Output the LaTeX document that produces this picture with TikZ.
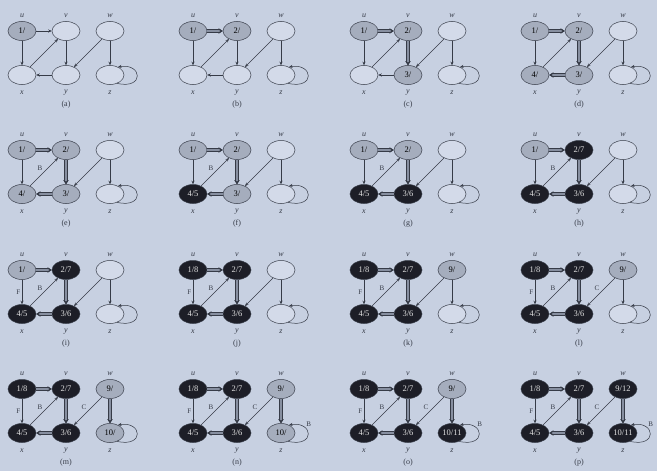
\documentclass[tikz,border=0pt]{standalone}
\usepackage{fontspec}
\setmainfont{Liberation Serif}
\usetikzlibrary{shapes.geometric,arrows.meta}
\definecolor{paper}{HTML}{C7D0E1}
\definecolor{ink}{HTML}{363B47}
\definecolor{wfill}{HTML}{D3DAE9}
\definecolor{gfill}{HTML}{A5ADBD}
\definecolor{bfill}{HTML}{1D1E27}
\definecolor{treegray}{HTML}{878FA0}

\tikzset{
  vert/.style={ellipse,draw=ink,line width=0.5pt,minimum width=28pt,minimum height=19pt,inner sep=0pt,font=\fontsize{8.5}{9}\selectfont},
  wh/.style={vert,fill=wfill},
  gr/.style={vert,fill=gfill},
  bk/.style={vert,fill=bfill,text=black!12},
  pl/.style={draw=ink,line width=0.5pt,-{Stealth[length=3.5pt,width=3pt]}},
  tr/.style={draw=treegray,line width=2.6pt,preaction={draw=ink,line width=3.8pt},-{Stealth[length=4pt,width=5pt,color=ink]}},
  elab/.style={font=\fontsize{7}{8}\selectfont,text=ink,inner sep=1.5pt},
  vlab/.style={font=\fontsize{8}{9}\selectfont\itshape,text=ink},
  capt/.style={font=\fontsize{8}{9}\selectfont,text=ink}
}

% one vertex: panel, name, position, style:text
\def\dfsnode#1#2#3#4:#5\relax{\node[#4] (#2-#1) at (#3) {#5};}
% one edge: from, to, label side, style:label
\def\dfsedge#1#2#3#4:#5\relax{\draw[#4] (#1) -- node[elab,#3] {#5} (#2);}
% self loop on z
\def\dfsloop#1#2:#3\relax{\draw[#2] (#1.-50) .. controls +(28,-6) and +(24,4) .. node[elab,pos=0.7,above right] {#3} (#1.45);}

\newcommand{\dfsnodes}[7]{%
  \dfsnode{#1}{u}{0,0}#2\relax
  \dfsnode{#1}{v}{44,0}#3\relax
  \dfsnode{#1}{w}{88,0}#4\relax
  \dfsnode{#1}{x}{0,-44}#5\relax
  \dfsnode{#1}{y}{44,-44}#6\relax
  \dfsnode{#1}{z}{88,-44}#7\relax
  \node[vlab] (lu-#1) at (0,15) {u};
  \node[vlab] (lv-#1) at (44,15) {v};
  \node[vlab] (lw-#1) at (88,15) {w};
  \node[vlab] (lx-#1) at (0,-62) {x};
  \node[vlab] (ly-#1) at (44,-62) {y};
  \node[vlab] (lz-#1) at (88,-62) {z};
  \node[capt] (cap-#1) at (44,-74) {(#1)};
}
\newcommand{\dfsedges}[9]{%
  \dfsedge{u-#1}{v-#1}{above}#2\relax
  \dfsedge{u-#1}{x-#1}{left}#3\relax
  \dfsedge{x-#1}{v-#1}{above left}#4\relax
  \dfsedge{v-#1}{y-#1}{right}#5\relax
  \dfsedge{y-#1}{x-#1}{below}#6\relax
  \dfsedge{w-#1}{y-#1}{above left}#7\relax
  \dfsedge{w-#1}{z-#1}{right}#8\relax
  \dfsloop{z-#1}#9\relax
}

\begin{document}
\begin{tikzpicture}[x=1pt,y=1pt]
  \useasboundingbox (0,0) rectangle (657,-471);
  \fill[paper] (0,0) rectangle (657,-471);

  % row 1
  \begin{scope}[shift={(22,-31)}]
    \dfsnodes{a}{gr:1/}{wh:}{wh:}{wh:}{wh:}{wh:}
    \dfsedges{a}{pl:}{pl:}{pl:}{pl:}{pl:}{pl:}{pl:}{pl:}
  \end{scope}
  \begin{scope}[shift={(193,-31)}]
    \dfsnodes{b}{gr:1/}{gr:2/}{wh:}{wh:}{wh:}{wh:}
    \dfsedges{b}{tr:}{pl:}{pl:}{pl:}{pl:}{pl:}{pl:}{pl:}
  \end{scope}
  \begin{scope}[shift={(364,-31)}]
    \dfsnodes{c}{gr:1/}{gr:2/}{wh:}{wh:}{gr:3/}{wh:}
    \dfsedges{c}{tr:}{pl:}{pl:}{tr:}{pl:}{pl:}{pl:}{pl:}
  \end{scope}
  \begin{scope}[shift={(535,-31)}]
    \dfsnodes{d}{gr:1/}{gr:2/}{wh:}{gr:4/}{gr:3/}{wh:}
    \dfsedges{d}{tr:}{pl:}{pl:}{tr:}{tr:}{pl:}{pl:}{pl:}
  \end{scope}

  % row 2
  \begin{scope}[shift={(22,-150)}]
    \dfsnodes{e}{gr:1/}{gr:2/}{wh:}{gr:4/}{gr:3/}{wh:}
    \dfsedges{e}{tr:}{pl:}{pl:B}{tr:}{tr:}{pl:}{pl:}{pl:}
  \end{scope}
  \begin{scope}[shift={(193,-150)}]
    \dfsnodes{f}{gr:1/}{gr:2/}{wh:}{bk:4/5}{gr:3/}{wh:}
    \dfsedges{f}{tr:}{pl:}{pl:B}{tr:}{tr:}{pl:}{pl:}{pl:}
  \end{scope}
  \begin{scope}[shift={(364,-150)}]
    \dfsnodes{g}{gr:1/}{gr:2/}{wh:}{bk:4/5}{bk:3/6}{wh:}
    \dfsedges{g}{tr:}{pl:}{pl:B}{tr:}{tr:}{pl:}{pl:}{pl:}
  \end{scope}
  \begin{scope}[shift={(535,-150)}]
    \dfsnodes{h}{gr:1/}{bk:2/7}{wh:}{bk:4/5}{bk:3/6}{wh:}
    \dfsedges{h}{tr:}{pl:}{pl:B}{tr:}{tr:}{pl:}{pl:}{pl:}
  \end{scope}

  % row 3
  \begin{scope}[shift={(22,-270)}]
    \dfsnodes{i}{gr:1/}{bk:2/7}{wh:}{bk:4/5}{bk:3/6}{wh:}
    \dfsedges{i}{tr:}{pl:F}{pl:B}{tr:}{tr:}{pl:}{pl:}{pl:}
  \end{scope}
  \begin{scope}[shift={(193,-270)}]
    \dfsnodes{j}{bk:1/8}{bk:2/7}{wh:}{bk:4/5}{bk:3/6}{wh:}
    \dfsedges{j}{tr:}{pl:F}{pl:B}{tr:}{tr:}{pl:}{pl:}{pl:}
  \end{scope}
  \begin{scope}[shift={(364,-270)}]
    \dfsnodes{k}{bk:1/8}{bk:2/7}{gr:9/}{bk:4/5}{bk:3/6}{wh:}
    \dfsedges{k}{tr:}{pl:F}{pl:B}{tr:}{tr:}{pl:}{pl:}{pl:}
  \end{scope}
  \begin{scope}[shift={(535,-270)}]
    \dfsnodes{l}{bk:1/8}{bk:2/7}{gr:9/}{bk:4/5}{bk:3/6}{wh:}
    \dfsedges{l}{tr:}{pl:F}{pl:B}{tr:}{tr:}{pl:C}{pl:}{pl:}
  \end{scope}

  % row 4
  \begin{scope}[shift={(22,-389)}]
    \dfsnodes{m}{bk:1/8}{bk:2/7}{gr:9/}{bk:4/5}{bk:3/6}{gr:10/}
    \dfsedges{m}{tr:}{pl:F}{pl:B}{tr:}{tr:}{pl:C}{tr:}{pl:}
  \end{scope}
  \begin{scope}[shift={(193,-389)}]
    \dfsnodes{n}{bk:1/8}{bk:2/7}{gr:9/}{bk:4/5}{bk:3/6}{gr:10/}
    \dfsedges{n}{tr:}{pl:F}{pl:B}{tr:}{tr:}{pl:C}{tr:}{pl:B}
  \end{scope}
  \begin{scope}[shift={(364,-389)}]
    \dfsnodes{o}{bk:1/8}{bk:2/7}{gr:9/}{bk:4/5}{bk:3/6}{bk:10/11}
    \dfsedges{o}{tr:}{pl:F}{pl:B}{tr:}{tr:}{pl:C}{tr:}{pl:B}
  \end{scope}
  \begin{scope}[shift={(535,-389)}]
    \dfsnodes{p}{bk:1/8}{bk:2/7}{bk:9/12}{bk:4/5}{bk:3/6}{bk:10/11}
    \dfsedges{p}{tr:}{pl:F}{pl:B}{tr:}{tr:}{pl:C}{tr:}{pl:B}
  \end{scope}
\end{tikzpicture}
\end{document}
